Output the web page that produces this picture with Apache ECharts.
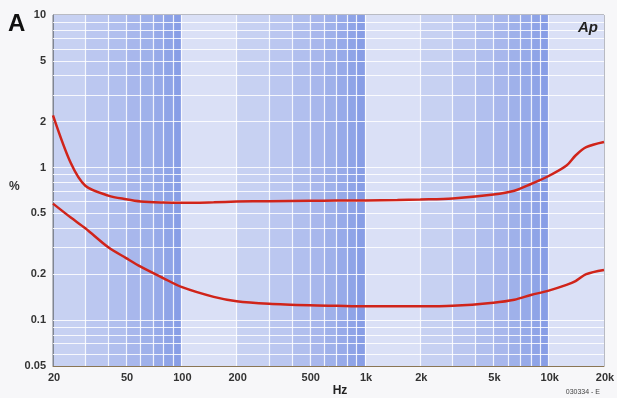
<!DOCTYPE html>
<html>
<head>
<meta charset="utf-8">
<script src="https://cdn.jsdelivr.net/npm/echarts@6/dist/echarts.min.js"></script>
<style>
  html, body { margin: 0; padding: 0; background: #f7f7f9; }
  #thd { width: 617px; height: 398px; }
</style>
</head>
<body>
<div id="thd"></div>
<script>
// frequency points (Hz) and the two distortion curves (%)
var freqs = [20, 25, 30, 40, 50, 60, 80, 100, 150, 200, 300, 500, 700, 1000, 1500, 2000, 3000, 5000, 6500, 8000, 10000, 12500, 14000, 16000, 20000]
var thdUpper = [2.2, 1.07, 0.76, 0.655, 0.62, 0.6, 0.59, 0.587, 0.592, 0.598, 0.602, 0.605, 0.607, 0.608, 0.612, 0.617, 0.627, 0.665, 0.705, 0.78, 0.88, 1.03, 1.2, 1.36, 1.47]
var thdLower = [0.58, 0.47, 0.4, 0.3, 0.255, 0.224, 0.188, 0.165, 0.142, 0.133, 0.128, 0.125, 0.124, 0.123, 0.123, 0.123, 0.124, 0.13, 0.136, 0.146, 0.156, 0.17, 0.18, 0.2, 0.213]

// tick labels
var xTickValues = [20, 50, 100, 200, 500, 1000, 2000, 5000, 10000, 20000]
var xTickLabels = ['20', '50', '100', '200', '500', '1k', '2k', '5k', '10k', '20k']
var yTickValues = [10, 5, 2, 1, 0.5, 0.2, 0.1, 0.05]
var yTickLabels = ['10', '5', '2', '1', '0.5', '0.2', '0.1', '0.05']

var xMin = 20, xMax = 20000, yMin = 0.05, yMax = 10
var font = 'Liberation Sans, Arial, sans-serif'

// log paper: white lines at 1..9 of every decade, shading getting darker towards the next decade
function mix(a, b, t) {
    var r = Math.round(a[0] + (b[0] - a[0]) * t)
    var g = Math.round(a[1] + (b[1] - a[1]) * t)
    var bl = Math.round(a[2] + (b[2] - a[2]) * t)
    return 'rgb(' + r + ',' + g + ',' + bl + ')'
}
var light = [218, 224, 246], dark = [136, 158, 230]
var bands = [], vLines = [], hLines = []
;[10, 100, 1000, 10000].forEach(function (d) {
    for (var k = 1; k <= 9; k++) {
        var a = Math.max(k * d, xMin), b = Math.min((k + 1) * d, xMax)
        if (b > a) {
            bands.push([{ xAxis: a, itemStyle: { color: mix(light, dark, Math.pow((k - 1) / 8, 0.7)) } }, { xAxis: b }])
        }
        if (k * d > xMin && k * d < xMax) vLines.push({ xAxis: k * d })
    }
})
;[0.01, 0.1, 1].forEach(function (d) {
    for (var k = 1; k <= 9; k++) {
        var v = +(k * d).toFixed(3)
        if (v > yMin && v < yMax) hLines.push({ yAxis: v })
    }
})

var chart = echarts.init(document.getElementById('thd'))
chart.setOption({
    animation: false,
    backgroundColor: '#f7f7f9',
    grid: { left: 53, right: 13, top: 15, bottom: 32, show: true, backgroundColor: '#dfe4f6', borderColor: '#7b7f8c', borderWidth: 1 },
    xAxis: {
        type: 'log', min: xMin, max: xMax,
        axisLine: { show: true, lineStyle: { color: '#8a7655' } },
        axisTick: { show: false }, axisLabel: { show: false }, splitLine: { show: false }
    },
    yAxis: {
        type: 'log', min: yMin, max: yMax,
        axisLine: { show: true, lineStyle: { color: '#808692' } },
        axisTick: { show: false }, axisLabel: { show: false }, splitLine: { show: false }
    },
    series: [{
        type: 'line', data: [], silent: true,
        markArea: { silent: true, z: 0, data: bands },
        markLine: {
            silent: true, z: 1, symbol: 'none', label: { show: false },
            lineStyle: { color: '#ffffff', width: 1.2, type: 'solid', opacity: 0.85 },
            data: vLines.concat(hLines)
        }
    }, {
        name: 'upper', type: 'line', z: 3, smooth: 0.3, symbol: 'none',
        lineStyle: { color: '#d0241a', width: 2.5 },
        data: freqs.map(function (f, i) { return [f, thdUpper[i]] })
    }, {
        name: 'lower', type: 'line', z: 3, smooth: 0.3, symbol: 'none',
        lineStyle: { color: '#d0241a', width: 2.5 },
        data: freqs.map(function (f, i) { return [f, thdLower[i]] })
    }]
})

// tick labels placed through the axes' own scales
var labels = []
xTickValues.forEach(function (v, i) {
    var p = chart.convertToPixel({ gridIndex: 0 }, [v, yMin])
    labels.push({ type: 'text', x: p[0] + 1, y: p[1] + 6, style: { text: xTickLabels[i], font: 'bold 11px ' + font, fill: '#333', align: 'center', verticalAlign: 'top' } })
})
yTickValues.forEach(function (v, i) {
    var p = chart.convertToPixel({ gridIndex: 0 }, [xMin, v])
    labels.push({ type: 'text', x: p[0] - 7, y: p[1], style: { text: yTickLabels[i], font: 'bold 11px ' + font, fill: '#333', align: 'right', verticalAlign: 'middle' } })
})
labels.push({ type: 'text', x: 8, y: 12, style: { text: 'A', font: 'bold 24px ' + font, fill: '#111' } })
labels.push({ type: 'text', x: 9, y: 181, style: { text: '%', font: 'bold 12px ' + font, fill: '#333' } })
labels.push({ type: 'text', x: 340, y: 385, style: { text: 'Hz', font: 'bold 12px ' + font, fill: '#222', align: 'center' } })
labels.push({ type: 'text', x: 598, y: 20, z: 10, style: { text: 'Ap', font: 'italic bold 15px ' + font, fill: '#222', align: 'right' } })
labels.push({ type: 'text', x: 600, y: 389, style: { text: '030334 - E', font: '7px ' + font, fill: '#444', align: 'right' } })
chart.setOption({ graphic: labels })
</script>
</body>
</html>
